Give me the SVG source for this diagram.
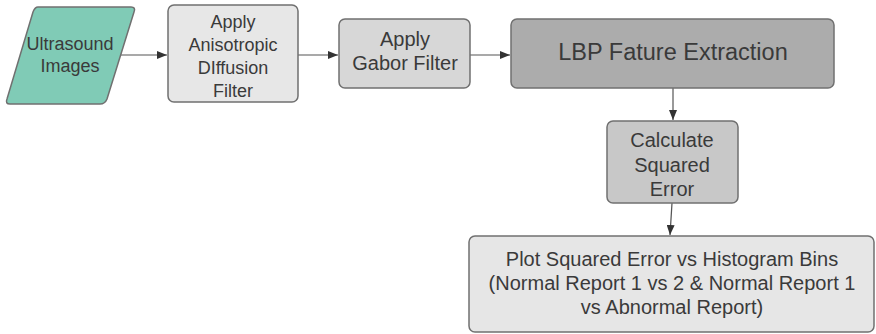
<svg xmlns="http://www.w3.org/2000/svg" width="876" height="334" viewBox="0 0 876 334">
<defs>
<marker id="ah" viewBox="0 0 10 8" refX="10" refY="4" markerWidth="10" markerHeight="8" markerUnits="userSpaceOnUse" orient="auto">
<path d="M0,0 L10,4 L0,8 Z" fill="#333"/>
</marker>
<style>
.n{stroke:#707070;stroke-width:1.5}
.t{font-family:"Liberation Sans",Arial,sans-serif;fill:#3a3a3a;text-anchor:middle}
.c{stroke:#555;stroke-width:1.2;fill:none;marker-end:url(#ah)}
</style>
</defs>
<rect width="876" height="334" fill="#fff"/>
<g id="connectors">
<line class="c" x1="120" y1="55" x2="167" y2="55"/>
<line class="c" x1="298" y1="55" x2="338" y2="55"/>
<line class="c" x1="470" y1="55" x2="510" y2="55"/>
<line class="c" x1="673" y1="88" x2="673" y2="120"/>
<line class="c" x1="672" y1="203" x2="670" y2="235"/>
</g>
<g id="ultrasound">
<path class="n" d="M38,7 L131,7 Q136,7 134,12 L107,99 Q105,104 100,104 L10,104 Q5,104 7,99 L33,12 Q35,7 38,7 Z" fill="#80cbb6"/>
<text class="t" font-size="18" x="70" y="50">Ultrasound</text>
<text class="t" font-size="18" x="70" y="72">Images</text>
</g>
<g id="anisotropic">
<rect class="n" x="168" y="5" width="130" height="97" rx="6" fill="#e7e7e7"/>
<text class="t" font-size="18" x="233" y="28">Apply</text>
<text class="t" font-size="18" x="233" y="51">Anisotropic</text>
<text class="t" font-size="18" x="233" y="74">DIffusion</text>
<text class="t" font-size="18" x="233" y="97">Filter</text>
</g>
<g id="gabor">
<rect class="n" x="339" y="19" width="131" height="69" rx="6" fill="#d7d7d7"/>
<text class="t" font-size="20" x="405" y="46">Apply</text>
<text class="t" font-size="20" x="405" y="70">Gabor Filter</text>
</g>
<g id="lbp">
<rect class="n" x="511" y="19" width="323" height="69" rx="6" fill="#acacac"/>
<text class="t" font-size="23.5" x="673" y="60">LBP Fature Extraction</text>
</g>
<g id="squared">
<rect class="n" x="607" y="121" width="131" height="82" rx="6" fill="#c8c8c8"/>
<text class="t" font-size="20" x="672" y="147">Calculate</text>
<text class="t" font-size="20" x="672" y="172">Squared</text>
<text class="t" font-size="20" x="672" y="196">Error</text>
</g>
<g id="plot">
<rect class="n" x="469" y="236" width="405" height="96" rx="6" fill="#e6e6e6"/>
<text class="t" font-size="20" x="672" y="266">Plot Squared Error vs Histogram Bins</text>
<text class="t" font-size="20" x="672" y="290">(Normal Report 1 vs 2 &amp; Normal Report 1</text>
<text class="t" font-size="20" x="672" y="314">vs Abnormal Report)</text>
</g>
</svg>
